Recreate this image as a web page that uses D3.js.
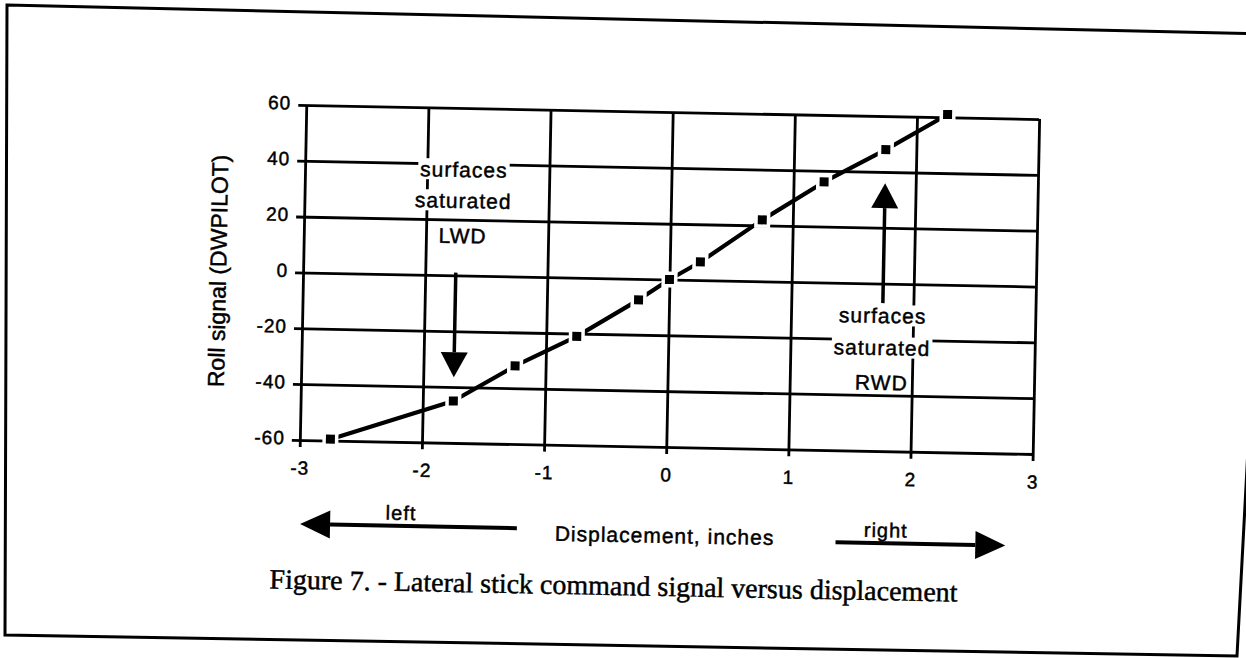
<!DOCTYPE html>
<html><head><meta charset="utf-8">
<script src="https://cdn.jsdelivr.net/npm/d3@7"></script>
<style>
html,body{margin:0;padding:0;background:#fff;}
svg{display:block;}
text{font-family:"Liberation Sans", Arial, Helvetica, sans-serif; fill:#000; stroke:#000; stroke-width:0.45px;}
</style></head><body>
<svg id="c" width="1246" height="658"></svg>
<script>
// ---- data ----
const xValues = [-2.75, -1.75, -1.25, -0.75, -0.25, 0, 0.25, 0.75, 1.25, 1.75, 2.25];
const yValues = [-59.5, -45, -32, -21, -7.5, 0, 6.5, 22, 36, 48, 61];
const xTicks = [-3, -2, -1, 0, 1, 2, 3];
const yTicks = [-60, -40, -20, 0, 20, 40, 60];
const xLabel = "Displacement, inches";
const yLabel = "Roll signal (DWPILOT)";
const caption = "Figure 7. - Lateral stick command signal versus displacement";
const noteLeftLines = ["surfaces", "saturated", "LWD"];
const noteRightLines = ["surfaces", "saturated", "RWD"];
const dirLeft = "left", dirRight = "right";

// ---- layout ----
const W = 1246, H = 658;
const PL = 303, PT = 112, PW = 733, PH = 335;
const svg = d3.select("#c");

// scanned page frame
svg.append("path")
  .attr("d", "M7,5 L1270,34 L1237,656 L5,635 Z")
  .attr("fill", "none").attr("stroke", "#000").attr("stroke-width", 3);

const page = svg.append("g").attr("transform", "rotate(1.1,669,279)");
const g = page.append("g").attr("transform", `translate(${PL},${PT})`);

const x = d3.scaleLinear().domain([-3, 3]).range([0, PW]);
const y = d3.scaleLinear().domain([-60, 60]).range([PH, 0]);

const TICK = 8;
// y grid + ticks
const ya = g.append("g").attr("transform", `translate(${-TICK},0)`)
  .call(d3.axisLeft(y).tickValues(yTicks).tickSize(-(PW + TICK)).tickPadding(7)
    .tickFormat(d => String(d)));
// x grid + ticks
const xa = g.append("g").attr("transform", `translate(0,${PH + 7})`)
  .call(d3.axisBottom(x).tickValues(xTicks).tickSize(-(PH + 7)).tickPadding(14)
    .tickFormat(d => String(d)));
[ya, xa].forEach(a => {
  a.select(".domain").remove();
  a.selectAll("line").attr("stroke", "#000").attr("stroke-width", 2.8);
  a.selectAll("text").attr("fill", "#000").attr("stroke", "#000").attr("stroke-width", 0.45)
    .style("font-size", "19px")
    .style("font-family", '"Liberation Sans", Arial, sans-serif').style("letter-spacing", "1px");
});
ya.selectAll("text").attr("dy", "0.22em");

// y title
g.append("text")
  .attr("transform", `translate(-77,${PH / 2}) rotate(-90)`)
  .attr("text-anchor", "middle").style("font-size", "23px")
  .text(yLabel);

// annotation text blocks with white knockout
function note(lines, xv, baseVals) {
  const grp = g.append("g");
  lines.forEach((t, i) => {
    const tx = grp.append("text")
      .attr("x", x(xv)).attr("y", y(baseVals[i]))
      .attr("text-anchor", "middle").style("font-size", "21px").style("letter-spacing", "1px")
      .text(t);
    const b = tx.node().getBBox();
    grp.insert("rect", "text")
      .attr("x", b.x - 2).attr("y", b.y + 1).attr("width", b.width + 4).attr("height", b.height - 2)
      .attr("fill", "#fff");
  });
}
note(noteLeftLines, -1.70, [35.3, 24.2, 11.6]);
note(noteRightLines, 1.75, [-14.1, -25.6, -38.1]);

// vertical arrows
function vArrow(xv, fromV, tipV) {
  const px = x(xv), pTip = y(tipV), dir = Math.sign(y(fromV) - pTip);
  const base = pTip + dir * 25;
  g.append("line").attr("x1", px).attr("x2", px).attr("y1", y(fromV)).attr("y2", base)
    .attr("stroke", "#000").attr("stroke-width", 3.5);
  g.append("path").attr("d", `M${px},${pTip} L${px - 13.5},${base} L${px + 13.5},${base} Z`).attr("fill", "#000");
}
vArrow(-1.75, 1, -36.5);
vArrow(1.75, -7, 36);

// curve
const pts = xValues.map((v, i) => [x(v), y(yValues[i])]);
g.append("path").datum(pts)
  .attr("d", d3.line())
  .attr("fill", "none").attr("stroke", "#000").attr("stroke-width", 4.2).attr("stroke-linejoin", "round");
g.selectAll("rect.halo").data(pts).join("rect").attr("class", "halo")
  .attr("x", d => d[0] - 8).attr("y", d => d[1] - 8).attr("width", 16).attr("height", 16).attr("fill", "#fff");
g.selectAll("rect.mk").data(pts).join("rect").attr("class", "mk")
  .attr("x", d => d[0] - 4.5).attr("y", d => d[1] - 4.5).attr("width", 9).attr("height", 9).attr("fill", "#000");

// bottom direction arrows and label
function hArrow(fromV, tipV, py) {
  const pTip = x(tipV), dir = Math.sign(x(fromV) - pTip);
  const base = pTip + dir * 30;
  g.append("line").attr("x1", x(fromV)).attr("x2", base).attr("y1", py).attr("y2", py)
    .attr("stroke", "#000").attr("stroke-width", 4);
  g.append("path").attr("d", `M${pTip},${py} L${base},${py - 14} L${base},${py + 14} Z`).attr("fill", "#000");
}
hArrow(-1.21, -2.985, PH + 84);
hArrow(1.40, 2.79, PH + 92);
g.append("text").attr("x", x(-2.16)).attr("y", PH + 78).attr("text-anchor", "middle")
  .style("font-size", "20px").style("letter-spacing", "1px").text(dirLeft);
g.append("text").attr("x", x(1.81)).attr("y", PH + 86).attr("text-anchor", "middle")
  .style("font-size", "20px").style("letter-spacing", "1px").text(dirRight);
g.append("text").attr("x", x(0)).attr("y", PH + 96).attr("text-anchor", "middle")
  .style("font-size", "21px").style("letter-spacing", "1px").text(xLabel);

// caption
g.append("text").attr("x", x(-0.41)).attr("y", PH + 149).attr("text-anchor", "middle")
  .style("font-family", '"Liberation Serif","Times New Roman",serif').style("font-size", "28px")
  .attr("stroke-width", 0.35)
  .text(caption);
</script>
</body></html>
